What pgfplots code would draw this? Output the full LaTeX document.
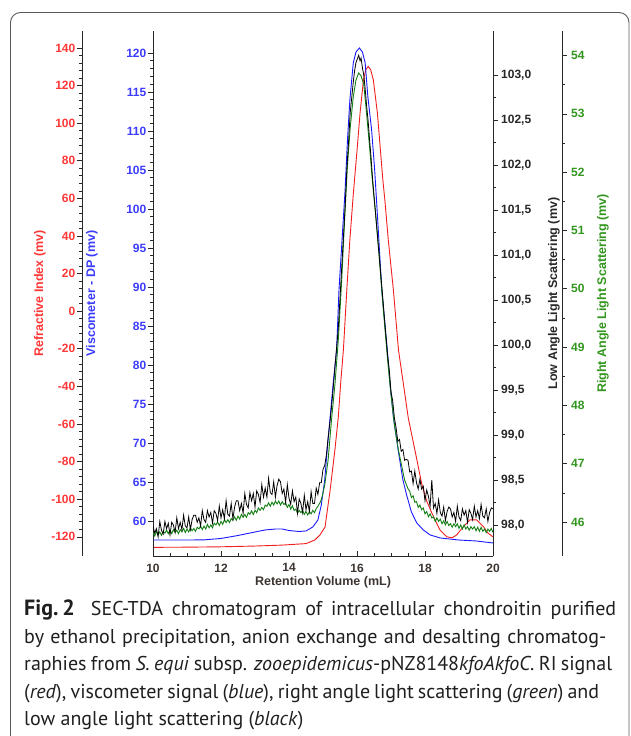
\documentclass[border=0pt]{standalone}
\usepackage{fontspec}
\setmainfont{Liberation Sans}
\newfontfamily\capfont{PT Sans}
\usepackage{pgfplots}
\pgfplotsset{compat=1.18}
\definecolor{cRed}{RGB}{240,30,30}
\definecolor{cRedT}{RGB}{255,55,55}
\definecolor{cBlue}{RGB}{25,25,255}
\definecolor{cBlueT}{RGB}{60,60,255}
\definecolor{cGreen}{RGB}{20,128,20}
\definecolor{cGreenT}{RGB}{50,150,30}
\definecolor{cAxis}{RGB}{40,40,40}
\definecolor{cXlab}{RGB}{60,52,48}
\definecolor{cFrame}{RGB}{90,90,90}
\tikzset{lab/.style={font=\bfseries\fontsize{12.5}{13}\selectfont}}
\pgfplotsset{
  every axis/.append style={
    scale only axis, width=340pt, height=525pt,
    every tick/.style={draw=cAxis, line width=0.6pt},
    major tick length=5pt, minor tick length=3pt,
    tick label style={font=\bfseries\fontsize{12}{13}\selectfont, inner sep=1.5pt},
    /pgf/number format/assume math mode=true,
  },
  pos main/.style={at={(153pt,-556pt)}, anchor=south west, xmin=10, xmax=20},
}
\begin{document}
\begin{tikzpicture}
\useasboundingbox (0pt,0pt) rectangle (630pt,-736pt);
\clip (0pt,0pt) rectangle (630pt,-736pt);
\draw[cFrame, line width=0.9pt, rounded corners=10pt] (10.5pt,-740pt) -- (10.5pt,-12.5pt) -- (629pt,-12.5pt) -- (629pt,-740pt);

% x axis
\begin{axis}[pos main, ymin=0, ymax=1, axis x line=bottom, hide y axis, axis line style={-, draw=cAxis, line width=0.8pt},
  tick align=inside, xtick={10,12,...,20}, minor x tick num=3,
  xticklabel style={text=cXlab, yshift=-6pt},
  every axis x label/.style={at={(axis description cs:0.5,-0.0495)}, anchor=center},
  xlabel={Retention Volume (mL)}, xlabel style={lab, text=cXlab}]
\end{axis}

% red data
\begin{axis}[pos main, ymin=-130.2, ymax=149.0, hide axis]
\addplot[cRed, line width=0.9pt] table {
10.0 -125.6
11.0 -125.5
12.0 -125.3
13.0 -124.9
13.8 -124.4
14.5 -123.6
14.76 -121.7
14.91 -119.0
15.06 -114.8
15.21 -95.1
15.35 -73.8
15.45 -56.3
15.52 -38.2
15.60 -20.6
15.70 11.3
15.79 37.9
15.89 62.0
16.01 87.5
16.09 105.4
16.19 123.0
16.26 128.5
16.33 130.1
16.40 128.5
16.48 123.0
16.60 105.4
16.68 87.5
16.76 69.8
16.82 59.0
16.92 37.9
17.07 11.3
17.22 -20.6
17.36 -38.2
17.51 -57.0
17.71 -74.5
17.90 -91.5
18.05 -101.0
18.20 -107.3
18.44 -116.4
18.64 -120.0
18.80 -120.5
18.93 -119.0
19.13 -114.6
19.32 -111.0
19.52 -111.0
19.72 -114.6
19.85 -118.0
20.0 -120.0
};
\end{axis}

% red scale
\begin{axis}[at={(82pt,-556pt)}, anchor=south west, xmin=0, xmax=1, ymin=-130.2, ymax=149.0,
  hide x axis, axis y line=left, axis line style={-, draw=cAxis, line width=0.8pt}, tick align=outside,
  ytick={-120,-100,...,140}, minor y tick num=4, yticklabel style={text=cRedT},
  every axis y label/.style={at={(axis description cs:-0.1235,0.5)}, rotate=90, anchor=center},
  ylabel={Refractive Index (mv)}, ylabel style={lab, text=cRedT}]
\end{axis}

% blue
\begin{axis}[pos main, ymin=55.51, ymax=122.82,
  hide x axis, axis y line=left, axis line style={-, draw=cAxis, line width=0.8pt}, tick align=outside,
  ytick={60,65,...,120}, minor y tick num=4, yticklabel style={text=cBlueT},
  every axis y label/.style={at={(axis description cs:-0.1794,0.5)}, rotate=90, anchor=center},
  ylabel={Viscometer - DP (mv)}, ylabel style={lab, text=cBlueT}]
\addplot[cBlue, line width=0.9pt] table {
10.0 57.56
10.5 57.56
11.0 57.56
11.5 57.58
12.0 57.76
12.5 58.14
13.0 58.59
13.3 58.85
13.6 58.97
13.8 58.97
14.0 58.78
14.3 58.65
14.5 58.72
14.70 59.23
14.85 60.13
14.95 62.05
15.05 65.26
15.11 68.46
15.21 73.33
15.30 77.69
15.40 81.92
15.47 89.62
15.56 96.03
15.65 102.44
15.72 108.85
15.79 113.97
15.89 118.72
15.97 120.13
16.07 120.64
16.16 120.13
16.24 118.72
16.32 114.36
16.43 110.13
16.52 105.0
16.60 99.23
16.66 94.74
16.73 89.62
16.89 81.92
16.97 77.69
17.07 73.33
17.21 69.10
17.35 65.26
17.46 63.33
17.60 61.15
17.76 59.74
17.95 58.85
18.15 58.21
18.45 57.82
19.0 57.56
19.5 57.44
20.0 57.18
};
\end{axis}

% green data
\begin{axis}[pos main, ymin=45.417, ymax=54.42, hide axis]
\addplot[cGreen, line width=0.9pt] table {
10.00 45.82
10.05 45.76
10.10 45.84
10.15 45.78
10.20 45.83
10.25 45.77
10.30 45.84
10.35 45.81
10.40 45.86
10.45 45.80
10.50 45.86
10.55 45.80
10.60 45.87
10.65 45.82
10.70 45.86
10.75 45.80
10.80 45.87
10.85 45.83
10.90 45.89
10.95 45.82
11.00 45.88
11.05 45.83
11.10 45.90
11.15 45.85
11.20 45.89
11.25 45.84
11.30 45.91
11.35 45.88
11.40 45.93
11.45 45.87
11.50 45.93
11.55 45.88
11.60 45.96
11.65 45.90
11.70 45.95
11.75 45.90
11.80 45.98
11.85 45.95
11.90 46.00
11.95 45.94
12.00 46.01
12.05 45.96
12.10 46.04
12.15 45.99
12.20 46.04
12.25 45.99
12.30 46.06
12.35 46.03
12.40 46.09
12.45 46.03
12.50 46.10
12.55 46.05
12.60 46.13
12.65 46.08
12.70 46.13
12.75 46.08
12.80 46.16
12.85 46.13
12.90 46.19
12.95 46.13
13.00 46.20
13.05 46.16
13.10 46.24
13.15 46.20
13.20 46.25
13.25 46.21
13.30 46.29
13.35 46.27
13.40 46.33
13.45 46.27
13.50 46.34
13.55 46.29
13.60 46.36
13.65 46.31
13.70 46.36
13.75 46.29
13.80 46.35
13.85 46.30
13.90 46.33
13.95 46.25
14.00 46.30
14.05 46.22
14.10 46.28
14.15 46.20
14.20 46.22
14.25 46.15
14.30 46.20
14.35 46.16
14.40 46.20
14.45 46.13
14.50 46.18
14.55 46.12
14.60 46.18
14.65 46.14
14.70 46.20
14.75 46.16
14.80 46.23
14.85 46.27
14.90 46.32
14.95 46.38
15.00 46.50
15.05 46.63
15.15 47.06
15.25 47.75
15.35 48.35
15.45 49.12
15.55 50.15
15.65 51.35
15.72 52.12
15.80 52.76
15.89 53.29
15.97 53.58
16.05 53.70
16.12 53.65
16.20 53.50
16.28 53.02
16.37 52.43
16.45 51.87
16.55 51.27
16.65 50.58
16.75 49.81
16.90 48.78
17.00 48.18
17.10 47.66
17.22 47.23
17.40 46.72
17.50 46.57
17.55 46.53
17.60 46.42
17.65 46.45
17.70 46.34
17.75 46.35
17.80 46.25
17.85 46.29
17.90 46.21
17.95 46.24
18.00 46.14
18.05 46.18
18.10 46.09
18.15 46.14
18.20 46.07
18.25 46.09
18.30 46.01
18.35 46.07
18.40 46.01
18.45 46.05
18.50 45.97
18.55 46.02
18.60 45.95
18.65 46.01
18.70 45.94
18.75 45.97
18.80 45.91
18.85 45.97
18.90 45.92
18.95 45.97
19.00 45.89
19.05 45.95
19.10 45.88
19.15 45.95
19.20 45.88
19.25 45.92
19.30 45.86
19.35 45.92
19.40 45.88
19.45 45.92
19.50 45.85
19.55 45.91
19.60 45.84
19.65 45.91
19.70 45.84
19.75 45.88
19.80 45.82
19.85 45.88
19.90 45.84
19.95 45.89
20.00 45.82
};
\end{axis}

% green scale
\begin{axis}[at={(562pt,-556pt)}, anchor=south east, xmin=0, xmax=1, ymin=45.417, ymax=54.42,
  hide x axis, axis y line=right, axis line style={-, draw=cAxis, line width=0.8pt}, tick align=outside,
  ytick={46,47,...,54}, minor y tick num=1, yticklabel style={text=cGreenT, xshift=2.5pt},
  every axis y label/.style={at={(axis description cs:1.1206,0.5)}, rotate=90, anchor=center},
  ylabel={Right Angle Light Scattering (mv)}, ylabel style={lab, text=cGreenT}]
\end{axis}

% black
\begin{axis}[pos main, ymin=97.656, ymax=103.49,
  hide x axis, axis y line=right, axis line style={-, draw=cAxis, line width=0.8pt}, tick align=outside,
  ytick={98,98.5,99,99.5,100,100.5,101,101.5,102,102.5,103}, minor y tick num=1,
  yticklabel style={text=cAxis, xshift=1.5pt, /pgf/number format/.cd, fixed, fixed zerofill, precision=1, use comma},
  every axis y label/.style={at={(axis description cs:1.1794,0.5)}, rotate=90, anchor=center},
  ylabel={Low Angle Light Scattering (mv)}, ylabel style={lab, text=cAxis}]
\addplot[black, line width=0.8pt] table {
10.00 97.99
10.05 97.91
10.10 97.96
10.15 97.87
10.20 98.04
10.25 97.94
10.30 97.90
10.35 98.04
10.40 97.96
10.45 98.02
10.50 97.89
10.55 98.03
10.60 98.00
10.65 97.92
10.70 98.08
10.75 97.96
10.80 98.03
10.85 97.95
10.90 98.11
10.95 97.99
11.00 97.97
11.05 98.09
11.10 97.95
11.15 98.06
11.20 98.11
11.25 98.11
11.30 98.03
11.35 98.08
11.40 97.99
11.45 98.16
11.50 98.06
11.55 98.03
11.60 98.16
11.65 98.09
11.70 98.14
11.75 98.02
11.80 98.16
11.85 98.13
11.90 98.05
11.95 98.21
12.00 98.08
12.05 98.17
12.10 98.07
12.15 98.27
12.20 98.12
12.25 98.10
12.30 98.24
12.35 98.07
12.40 98.20
12.45 98.27
12.50 98.27
12.55 98.16
12.60 98.24
12.65 98.13
12.70 98.35
12.75 98.23
12.80 98.19
12.85 98.36
12.90 98.27
12.95 98.35
13.00 98.20
13.05 98.38
13.10 98.34
13.15 98.25
13.20 98.45
13.25 98.31
13.30 98.41
13.35 98.31
13.40 98.52
13.45 98.36
13.50 98.34
13.55 98.48
13.60 98.31
13.65 98.44
13.70 98.51
13.75 98.48
13.80 98.35
13.85 98.40
13.90 98.25
13.95 98.45
14.00 98.30
14.05 98.23
14.10 98.38
14.15 98.26
14.20 98.31
14.25 98.13
14.30 98.29
14.35 98.24
14.40 98.14
14.45 98.33
14.50 98.17
14.55 98.26
14.60 98.15
14.65 98.37
14.70 98.24
14.75 98.24
14.80 98.41
14.85 98.34
14.90 98.47
14.95 98.47
15.00 98.62
15.05 98.66
15.10 98.78
15.15 98.97
15.20 99.13
15.25 99.31
15.30 99.52
15.35 99.75
15.40 99.97
15.45 100.19
15.50 100.52
15.55 100.86
15.60 101.20
15.65 101.53
15.70 101.95
15.75 102.25
15.80 102.58
15.85 102.77
15.89 102.92
15.93 103.05
15.97 103.14
16.01 103.18
16.05 103.22
16.09 103.16
16.12 103.19
16.16 103.08
16.20 103.00
16.24 102.85
16.28 102.67
16.33 102.48
16.37 102.28
16.41 102.10
16.45 101.89
16.50 101.66
16.55 101.44
16.60 101.22
16.65 101.00
16.70 100.78
16.75 100.56
16.80 100.33
16.85 100.11
16.90 99.89
16.95 99.72
17.00 99.48
17.05 99.38
17.10 99.19
17.15 99.08
17.20 98.93
17.25 98.95
17.30 98.82
17.35 98.84
17.40 98.72
17.45 98.73
17.50 98.72
17.55 98.59
17.60 98.60
17.65 98.46
17.70 98.60
17.75 98.47
17.80 98.40
17.85 98.51
17.90 98.40
17.95 98.43
18.00 98.27
18.05 98.39
18.10 98.32
18.15 98.21
18.20 98.50
18.25 98.19
18.30 98.24
18.35 98.13
18.40 98.28
18.45 98.14
18.50 98.10
18.55 98.20
18.60 98.05
18.65 98.15
18.70 98.20
18.75 98.18
18.80 98.09
18.85 98.14
18.90 98.04
18.95 98.21
19.00 98.09
19.05 98.05
19.10 98.18
19.15 98.11
19.20 98.16
19.25 98.03
19.30 98.17
19.35 98.13
19.40 98.06
19.45 98.21
19.50 98.09
19.55 98.16
19.60 98.07
19.65 98.23
19.70 98.10
19.75 98.08
19.80 98.18
19.85 98.04
19.90 98.14
19.95 98.19
20.00 98.18
};
\end{axis}

% caption
\begin{scope}[every node/.style={anchor=base west, inner sep=0pt, font=\capfont\fontsize{20}{24}\selectfont, text=black!88}]
\node at (24pt,-615pt) {\makebox[592pt][s]{\mbox{\fontsize{22}{24}\selectfont\bfseries Fig.\kern4pt2}\hspace{16pt}SEC-TDA chromatogram of intracellular chondroitin purified}};
\node at (24pt,-643pt) {\makebox[582pt][s]{by ethanol precipitation, anion exchange and desalting chromatog-}};
\node at (24pt,-670.5pt) {\makebox[588pt][s]{raphies from \textit{S. equi} subsp. \textit{zooepidemicus}-pNZ8148\textit{kfoAkfoC}. RI signal}};
\node at (24pt,-698pt) {\makebox[575pt][s]{(\textit{red}), viscometer signal (\textit{blue}), right angle light scattering (\textit{green}) and}};
\node at (24pt,-725.5pt) {low angle light scattering (\textit{black})};
\end{scope}
\end{tikzpicture}
\end{document}
